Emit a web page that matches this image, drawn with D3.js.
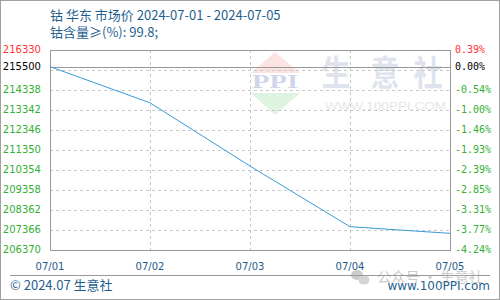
<!DOCTYPE html>
<html><head><meta charset="utf-8">
<script src="https://cdn.jsdelivr.net/npm/d3@7/dist/d3.min.js"></script>
<style>body{margin:0;background:#fff}svg{display:block}</style>
</head><body>
<svg id="c" width="500" height="300"></svg>
<script>
const dates = ["07/01","07/02","07/03","07/04","07/05"];
const prices = [215500, 213700, 210550, 207530, 207200];
const leftTicks = [216330, 215500, 214338, 213342, 212346, 211350, 210354, 209358, 208362, 207366, 206370];
const rightTicks = ["0.39%","0.00%","-0.54%","-1.00%","-1.46%","-1.93%","-2.39%","-2.85%","-3.31%","-3.77%","-4.24%"];
const gridValues = [215334, 214338, 213342, 212346, 211350, 210354, 209358, 208362, 207366];
const basePrice = 215500;
const title1 = "钴 华东 市场价 2024-07-01 - 2024-07-05";
const title2 = "钴含量≥(%): 99.8;";

const svg = d3.select("#c");
const L = 50, R = 450, T = 50, B = 250;
const x = d3.scalePoint().domain(dates).range([L, R]);
const y = d3.scaleLinear().domain([206370, 216330]).range([B, T]);

svg.append("rect").attr("x",0.5).attr("y",0.5).attr("width",499).attr("height",299)
  .attr("fill","#fff").attr("stroke","#a0a0a0");

// watermark
const wm = svg.append("g");
wm.append("path").attr("d", `M275,52 L300,73 L251,73 Z`).attr("fill","#fbe3e3");
wm.append("path").attr("d", `M251,93 L300,93 L275,115 Z`).attr("fill","#def3e0");
wm.append("text").attr("x",275).attr("y",88).attr("text-anchor","middle")
  .attr("font-family","Liberation Serif").attr("font-weight","bold").attr("font-size",18)
  .attr("textLength",46).attr("lengthAdjust","spacingAndGlyphs")
  .attr("fill","#cfd6ea").text("PPI");
[["生",336],["意",385],["社",428]].forEach(([ch,cx])=>{
  wm.append("text").attr("x",cx).attr("y",86).attr("text-anchor","middle")
    .attr("font-family","Noto Sans CJK SC").attr("font-weight","bold").attr("font-size",35)
    .attr("textLength",29).attr("lengthAdjust","spacingAndGlyphs")
    .attr("fill","#dfe3ee").text(ch);
});
wm.append("text").attr("x",325).attr("y",110).attr("font-family","Liberation Sans")
  .attr("font-size",11).attr("textLength",121).attr("lengthAdjust","spacingAndGlyphs")
  .attr("fill","#e6e6e6").text("WWW.100PPI.COM");

// grid
svg.append("g").selectAll("line").data(gridValues).join("line")
  .attr("x1",L).attr("x2",R).attr("y1",d=>Math.round(y(d))+0.5).attr("y2",d=>Math.round(y(d))+0.5)
  .attr("stroke","#c8c8c8").attr("stroke-dasharray","3,3");
svg.append("g").selectAll("line").data(dates.slice(1,-1)).join("line")
  .attr("y1",T).attr("y2",B).attr("x1",d=>x(d)+0.5).attr("x2",d=>x(d)+0.5)
  .attr("stroke","#c8c8c8").attr("stroke-dasharray","3,3");
svg.append("line").attr("x1",L).attr("x2",R).attr("y1",Math.round(y(basePrice))+0.5).attr("y2",Math.round(y(basePrice))+0.5)
  .attr("stroke","#999");
svg.append("rect").attr("x",L+0.5).attr("y",T+0.5).attr("width",R-L).attr("height",B-T)
  .attr("fill","none").attr("stroke","#999");

// line
svg.append("path").datum(prices)
  .attr("d", d3.line().x((d,i)=>x(dates[i])).y(d=>y(d)))
  .attr("fill","none").attr("stroke","#3a9ad9").attr("stroke-width",1);

// axes labels
const colorFor = (i)=> i===0 ? "#ff3333" : (i===1 ? "#000" : "#33b033");
svg.append("g").selectAll("text").data(leftTicks).join("text")
  .attr("x",41).attr("y",d=>y(d)).attr("dy","0.3em").attr("text-anchor","end")
  .attr("font-family","DejaVu Sans").attr("font-size",10)
  .attr("fill",(d,i)=>colorFor(i)).text(d=>d);
svg.append("g").selectAll("text").data(rightTicks).join("text")
  .attr("x",455).attr("y",(d,i)=>y(leftTicks[i])).attr("dy","0.3em")
  .attr("font-family","DejaVu Sans Mono").attr("font-size",10)
  .attr("fill",(d,i)=>colorFor(i)).text(d=>d);
svg.append("g").selectAll("text").data(dates).join("text")
  .attr("x",d=>x(d)).attr("y",270).attr("text-anchor","middle")
  .attr("font-family","DejaVu Sans").attr("font-size",10)
  .attr("fill","#1f5a8a").text(d=>d);

// titles
svg.append("text").attr("x",50).attr("y",20).attr("font-family","Noto Sans CJK SC, DejaVu Sans")
  .attr("font-size",13).attr("fill","#1f5f8f").text(title1);
svg.append("text").attr("x",50).attr("y",37).attr("font-family","Noto Sans CJK SC, DejaVu Sans")
  .attr("font-size",13).attr("fill","#1f5f8f").text(title2);

// footer
svg.append("line").attr("x1",10).attr("x2",490).attr("y1",275.5).attr("y2",275.5).attr("stroke","#999");
svg.append("text").attr("x",10).attr("y",290).attr("font-family","Noto Sans CJK SC, DejaVu Sans")
  .attr("font-size",13).attr("fill","#1f5f8f").text("© 2024.07 生意社");
svg.append("text").attr("x",490).attr("y",290).attr("text-anchor","end").attr("font-family","DejaVu Sans")
  .attr("font-size",12).attr("fill","#1f5f8f").text("www.100PPI.com");
// wechat overlay watermark
const ov = svg.append("g").attr("opacity",0.5);
ov.append("ellipse").attr("cx",357).attr("cy",275).attr("rx",6).attr("ry",5).attr("fill","#999");
ov.append("ellipse").attr("cx",364).attr("cy",280).attr("rx",5.5).attr("ry",4.5).attr("fill","#aaa");
ov.append("text").attr("x",377).attr("y",282).attr("font-family","Noto Sans CJK SC").attr("font-size",14)
  .attr("textLength",106).attr("lengthAdjust","spacingAndGlyphs")
  .attr("fill","#999").text("公众号 · 生意社");
</script>
</body></html>
